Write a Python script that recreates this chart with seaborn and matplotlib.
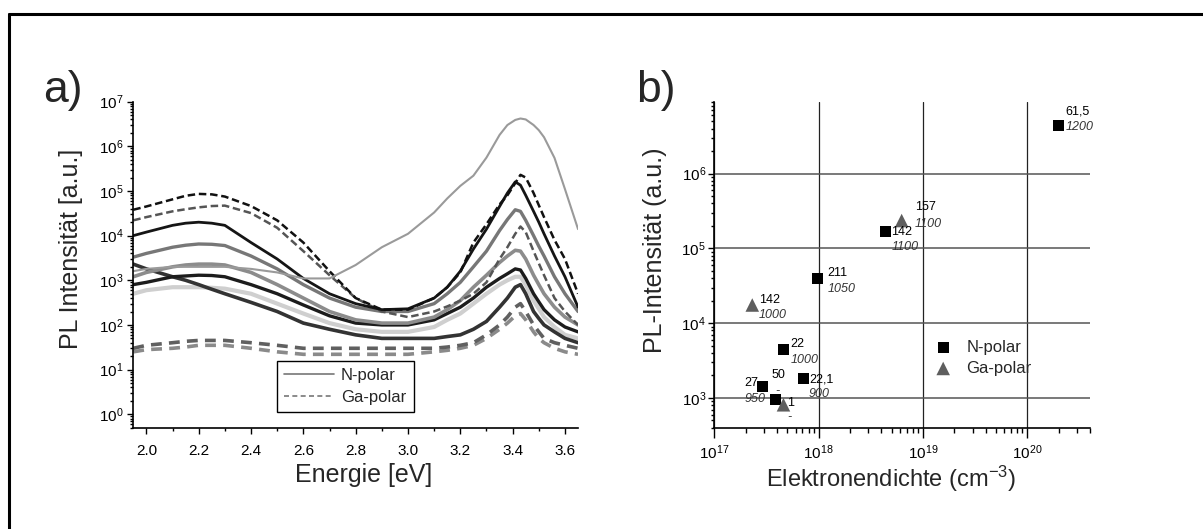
import matplotlib
matplotlib.use("Agg")
import matplotlib.pyplot as plt
import matplotlib.ticker as mticker
from matplotlib.lines import Line2D
import numpy as np
import pandas as pd
import seaborn as sns

# ---- panel a: PL spectra ----
energy = [1.95, 2.0, 2.1, 2.15, 2.2, 2.25, 2.3, 2.4, 2.5, 2.6, 2.7, 2.8, 2.9, 3.0, 3.1, 3.15,
          3.2, 3.25, 3.3, 3.35, 3.38, 3.41, 3.43, 3.45, 3.48, 3.5, 3.52, 3.56, 3.6, 3.65]

ga_low2 = [2.5e1, 2.8e1, 3e1, 3.2e1, 3.5e1, 3.5e1, 3.5e1, 3e1, 2.5e1, 2.2e1, 2.2e1, 2.2e1, 2.2e1, 2.2e1,
           2.5e1, 2.7e1, 3e1, 3.5e1, 5e1, 8e1, 1.1e2, 1.6e2, 1.8e2, 1.3e2, 7e1, 5e1, 4e1, 3e1, 2.5e1, 2.2e1]
ga_low1 = [3e1, 3.5e1, 4e1, 4.3e1, 4.5e1, 4.5e1, 4.5e1, 4e1, 3.5e1, 3e1, 3e1, 3e1, 3e1, 3e1,
           3e1, 3.2e1, 3.5e1, 4e1, 6e1, 1e2, 1.5e2, 2.5e2, 3e2, 2e2, 1e2, 7e1, 5e1, 4e1, 3.5e1, 3e1]
n_light = [5e2, 6e2, 7e2, 7e2, 7e2, 6.8e2, 6.5e2, 5e2, 3e2, 1.8e2, 1.1e2, 8e1, 7e1, 7e1,
           9e1, 1.3e2, 1.8e2, 3e2, 5e2, 8e2, 1e3, 1.2e3, 1.2e3, 8e2, 3.5e2, 2.3e2, 1.5e2, 9e1, 6e1, 5e1]
n_dark = [2.3e3, 1.8e3, 1.2e3, 1.0e3, 8e2, 6.3e2, 5e2, 3.2e2, 2e2, 1.1e2, 8e1, 6e1, 5e1, 5e1,
          5e1, 5.5e1, 6e1, 8e1, 1.2e2, 2.5e2, 4e2, 7e2, 8e2, 5e2, 2e2, 1.4e2, 1e2, 7e1, 5e1, 4e1]
n_black2 = [8e2, 9e2, 1.2e3, 1.25e3, 1.3e3, 1.28e3, 1.2e3, 8e2, 5e2, 2.8e2, 1.6e2, 1.1e2, 1e2, 1e2,
            1.3e2, 1.8e2, 2.5e2, 4e2, 7e2, 1.1e3, 1.4e3, 1.8e3, 1.7e3, 1.1e3, 5e2, 3.3e2, 2.2e2, 1.3e2, 9e1, 7e1]
n_mid = [1.2e3, 1.5e3, 2.0e3, 2.2e3, 2.3e3, 2.3e3, 2.2e3, 1.5e3, 8e2, 4e2, 2e2, 1.3e2, 1.1e2, 1.1e2,
         1.5e2, 2.2e2, 3.5e2, 7e2, 1.3e3, 2.5e3, 3.5e3, 4.7e3, 4.5e3, 3e3, 1.3e3, 8e2, 5e2, 2.5e2, 1.5e2, 1e2]
n_gray = [3.3e3, 4e3, 5.5e3, 6.1e3, 6.5e3, 6.4e3, 6e3, 3.5e3, 1.8e3, 8e2, 4e2, 2.5e2, 2e2, 2e2,
          3e2, 5e2, 9e2, 2e3, 4.5e3, 1.3e4, 2.3e4, 3.8e4, 3.5e4, 2.2e4, 1e4, 5.8e3, 3.5e3, 1.2e3, 5e2, 2e2]
ga_gray = [2.2e4, 2.6e4, 3.5e4, 3.9e4, 4.3e4, 4.6e4, 4.7e4, 3.2e4, 1.5e4, 4.5e3, 1.3e3, 4e2, 2e2, 1.5e2,
           2e2, 2.6e2, 3.5e2, 5e2, 9e2, 3e3, 5.5e3, 1.1e4, 1.6e4, 1.2e4, 4.5e3, 2.4e3, 1.3e3, 4e2, 2e2, 1e2]
n_black = [1.0e4, 1.2e4, 1.7e4, 1.9e4, 2.0e4, 1.9e4, 1.7e4, 7e3, 3e3, 1.1e3, 5e2, 3e2, 2.2e2, 2.3e2,
           4e2, 7e2, 1.6e3, 5e3, 1.4e4, 4.5e4, 9e4, 1.6e5, 1.35e5, 8e4, 3.5e4, 2e4, 1.1e4, 3.5e3, 1.2e3, 2.5e2]
ga_black = [3.8e4, 4.5e4, 6.5e4, 7.8e4, 8.6e4, 8.4e4, 7.5e4, 4.6e4, 2.2e4, 7e3, 1.6e3, 4e2, 2.2e2, 2.2e2,
            4e2, 7e2, 1.5e3, 7e3, 1.8e4, 5e4, 8e4, 1.5e5, 2.3e5, 2.0e5, 9e4, 4.8e4, 2.6e4, 8e3, 3e3, 5e2]
n_top = [1.6e3, 1.8e3, 2.0e3, 2.0e3, 2.0e3, 2.0e3, 2.0e3, 1.8e3, 1.5e3, 1.1e3, 1.1e3, 2.2e3, 5.5e3, 1.1e4,
         3.3e4, 6.8e4, 1.3e5, 2.2e5, 5.6e5, 1.8e6, 3.0e6, 3.9e6, 4.2e6, 4.0e6, 3.0e6, 2.3e6, 1.6e6, 5.5e5, 1.1e5, 1.4e4]

# drawing styles: (series, colour, linestyle, linewidth)
spectra = [
    (ga_low2, "#8a8a8a", (0, (3, 2)), 2.6),
    (ga_low1, "#606060", (0, (3, 2)), 2.6),
    (n_light, "#cfcfcf", "-", 3.0),
    (n_dark, "#333333", "-", 2.6),
    (n_black2, "#1c1c1c", "-", 2.4),
    (n_mid, "#8c8c8c", "-", 2.6),
    (n_gray, "#777777", "-", 2.4),
    (ga_gray, "#555555", (0, (3, 1.5)), 1.8),
    (n_black, "#151515", "-", 2.0),
    (ga_black, "#111111", (0, (3, 1.5)), 1.8),
    (n_top, "#9a9a9a", "-", 1.5),
]

# ---- panel b: PL intensity vs electron density ----
dens_n = [1.98e20, 4.37e18, 9.7e17, 4.6e17, 2.88e17, 3.82e17, 7.2e17]
pl_n = [4.38e6, 1.67e5, 4.0e4, 4.5e3, 1.42e3, 9.5e2, 1.8e3]
top_n = ["61,5", "142", "211", "22", "27", "50", "22,1"]
bot_n = ["1200", "1100", "1050", "1000", "950", "-", "900"]

dens_ga = [6.25e18, 2.31e17, 4.6e17]
pl_ga = [2.36e5, 1.75e4, 8.1e2]
top_ga = ["157", "142", "1"]
bot_ga = ["1100", "1000", "-"]

# label offsets in pixels (dx, dy down) for upper / lower text
off_n = [((6.7, -14), (7.7, 1.3)), ((5.3, 0), (6, 15.3)), ((10.3, -5.3), (10.3, 10.7)),
         ((6.7, -5.5), (7.4, 10.4)), ((-18.3, -3.2), (-18, 12.5)), ((-4, -24.2), (0, -8.3)),
         ((5.3, 0.7), (5.3, 15.2))]
off_ga = [((13, -13.3), (13, 3.3)), ((6.7, -5.2), (6.7, 10)), ((4, -2.2), (4, 12.3))]

sns.set_theme(style="ticks")
plt.rcParams["font.family"] = ["Liberation Sans", "DejaVu Sans"]
plt.rcParams["mathtext.fontset"] = "custom"
plt.rcParams["mathtext.rm"] = "Liberation Sans"
plt.rcParams["mathtext.it"] = "Liberation Sans:italic"
plt.rcParams["axes.edgecolor"] = "black"
plt.rcParams["axes.linewidth"] = 1.2
plt.rcParams["xtick.color"] = "black"
plt.rcParams["ytick.color"] = "black"

fig = plt.figure(figsize=(12.03, 5.29), dpi=100)
ax1 = fig.add_axes([0.1108, 0.1915, 0.3697, 0.6163])
ax2 = fig.add_axes([0.5938, 0.1915, 0.3123, 0.6151])

# frame around the whole figure (only top and left edge fall inside)
fig.add_artist(Line2D([0.0072, 1.01], [0.974, 0.974], color="black", lw=2.2,
                      transform=fig.transFigure))
fig.add_artist(Line2D([0.0072, 0.0072], [-0.01, 0.974], color="black", lw=2.2,
                      transform=fig.transFigure))

# ---- panel a ----
for vals, col, ls, lw in spectra:
    sns.lineplot(x=energy, y=vals, ax=ax1, color=col, linestyle=ls, linewidth=lw,
                 sort=False)
ax1.set_yscale("log")
ax1.set_xlim(1.95, 3.65)
ax1.set_ylim(0.5, 1e7)
ax1.xaxis.set_major_locator(mticker.MultipleLocator(0.2))
ax1.xaxis.set_minor_locator(mticker.MultipleLocator(0.1))
ax1.xaxis.set_major_formatter(mticker.FormatStrFormatter("%.1f"))
ax1.yaxis.set_major_locator(mticker.LogLocator(base=10, numticks=20))
ax1.yaxis.set_minor_locator(mticker.LogLocator(base=10, subs=np.arange(2, 10), numticks=20))
ax1.yaxis.set_minor_formatter(mticker.NullFormatter())
ax1.tick_params(which="both", direction="out", labelsize=11, width=1.0)
ax1.tick_params(which="major", length=4, pad=3)
ax1.tick_params(which="minor", length=2.5)
ax1.tick_params(axis="x", which="major", pad=8)
sns.despine(ax=ax1)
ax1.set_xlabel("Energie [eV]", fontsize=18)
ax1.set_ylabel("PL Intensität [a.u.]", fontsize=18)
ax1.xaxis.set_label_coords(0.517, -0.108)
ax1.yaxis.set_label_coords(-0.112, 0.548)

leg_a = [Line2D([], [], color="#777777", lw=1.2, ls="-"),
         Line2D([], [], color="#777777", lw=1.2, ls=(0, (3, 2)))]
lg1 = ax1.legend(leg_a, ["N-polar", "Ga-polar"], loc="lower left",
                 bbox_to_anchor=(0.3225, 0.047), borderaxespad=0, fontsize=12,
                 fancybox=False, edgecolor="black", framealpha=1, handlelength=3.0,
                 labelspacing=0.4, borderpad=0.45, handletextpad=0.4)
lg1.get_frame().set_linewidth(1.0)

# ---- panel b ----
ax2.set_xscale("log")
ax2.set_yscale("log")
ax2.set_xlim(1e17, 4e20)
ax2.set_ylim(400, 9e6)
ax2.grid(True, which="major", axis="x", color="#222222", lw=0.9)
ax2.grid(True, which="major", axis="y", color="#555555", lw=1.1)
ax2.set_axisbelow(True)
sns.scatterplot(x=dens_n, y=pl_n, ax=ax2, marker="s", s=62, color="black",
                edgecolor="none", label="N-polar", zorder=3)
sns.scatterplot(x=dens_ga, y=pl_ga, ax=ax2, marker="^", s=95, color="#5e5e5e",
                edgecolor="none", label="Ga-polar", zorder=3)

px = 0.72  # points per pixel at 100 dpi
for xs, ys, tops, bots, offs in [(dens_n, pl_n, top_n, bot_n, off_n),
                                 (dens_ga, pl_ga, top_ga, bot_ga, off_ga)]:
    for x, y, t, b, (o1, o2) in zip(xs, ys, tops, bots, offs):
        ax2.annotate(t, (x, y), xytext=(o1[0] * px, -o1[1] * px), textcoords="offset points",
                     ha="left", va="center", fontsize=9, color="black")
        ax2.annotate(b, (x, y), xytext=(o2[0] * px, -o2[1] * px), textcoords="offset points",
                     ha="left", va="center", fontsize=9, color="#333333", style="italic")

ax2.xaxis.set_major_locator(mticker.LogLocator(base=10, numticks=20))
ax2.xaxis.set_minor_locator(mticker.LogLocator(base=10, subs=np.arange(2, 10), numticks=20))
ax2.yaxis.set_major_locator(mticker.LogLocator(base=10, numticks=20))
ax2.yaxis.set_minor_locator(mticker.LogLocator(base=10, subs=np.arange(2, 10), numticks=20))
ax2.xaxis.set_minor_formatter(mticker.NullFormatter())
ax2.yaxis.set_minor_formatter(mticker.NullFormatter())
ax2.tick_params(which="both", direction="out", labelsize=11, width=1.0)
ax2.tick_params(axis="x", which="major", length=7, pad=4)
ax2.tick_params(axis="x", which="minor", length=3.5)
ax2.tick_params(axis="y", which="major", length=4, pad=2)
ax2.tick_params(axis="y", which="minor", length=2.5)
sns.despine(ax=ax2)
ax2.set_xlabel("Elektronendichte (cm$^{-3}$)", fontsize=17)
ax2.set_ylabel("PL-Intensität (a.u.)", fontsize=18)
ax2.xaxis.set_label_coords(0.47, -0.112)
ax2.yaxis.set_label_coords(-0.126, 0.546)
ax2.legend(loc="upper left", bbox_to_anchor=(0.547, 0.29), frameon=False, fontsize=12,
           handletextpad=0.4, labelspacing=0.35, borderaxespad=0)

fig.text(0.0357, 0.808, "a)", fontsize=32, ha="left", va="baseline")
fig.text(0.529, 0.808, "b)", fontsize=32, ha="left", va="baseline")

fig.savefig("out.png", dpi=100, facecolor="white")
